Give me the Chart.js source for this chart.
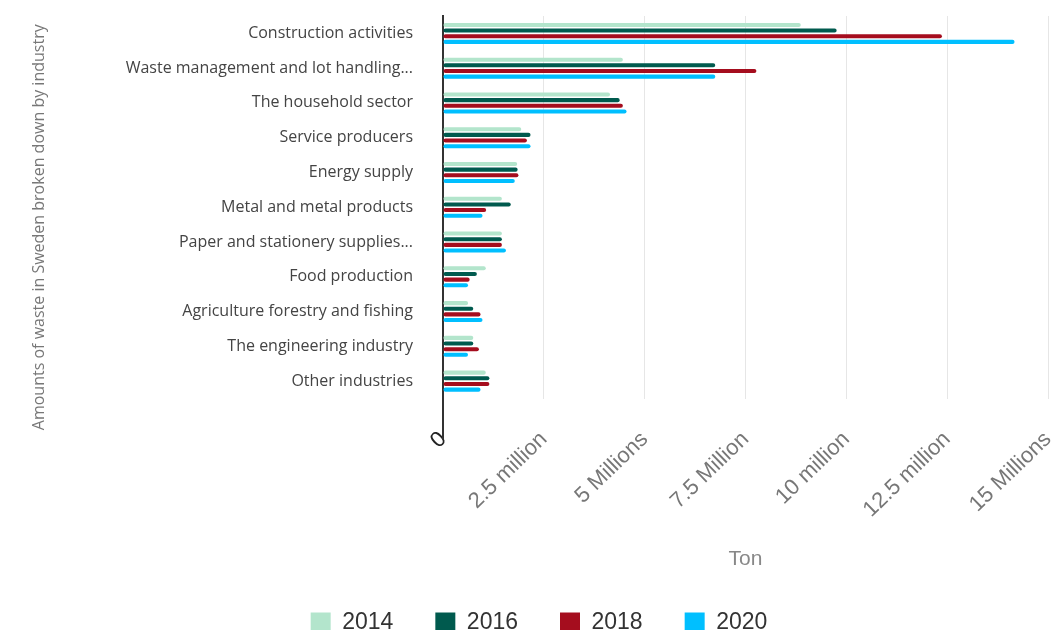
<!DOCTYPE html>
<html>
<head>
<meta charset="utf-8">
<script src="https://cdn.jsdelivr.net/npm/chart.js@4"></script>
<style>
  html, body { margin: 0; padding: 0; background: #fff; }
  #wrap { width: 1062px; height: 630px; }
</style>
</head>
<body>
<div id="wrap"><canvas id="myChart" width="1062" height="630"></canvas></div>
<script>
const categories = [
  "Construction activities",
  "Waste management and lot handling...",
  "The household sector",
  "Service producers",
  "Energy supply",
  "Metal and metal products",
  "Paper and stationery supplies...",
  "Food production",
  "Agriculture forestry and fishing",
  "The engineering industry",
  "Other industries",
];

const years = ["2014", "2016", "2018", "2020"];

// tons
const values2014 = [8870000, 4460000, 4140000, 1940000, 1840000, 1460000, 1460000, 1060000, 620000, 750000, 1060000];
const values2016 = [9760000, 6750000, 4380000, 2170000, 1850000, 1680000, 1460000, 840000, 750000, 750000, 1150000];
const values2018 = [12370000, 7770000, 4460000, 2080000, 1870000, 1070000, 1460000, 660000, 930000, 890000, 1150000];
const values2020 = [14170000, 6750000, 4550000, 2170000, 1780000, 980000, 1560000, 620000, 980000, 620000, 930000];

const tickLabels = ["0", "2.5 million", "5 Millions", "7.5 Million", "10 million", "12.5 million", "15 Millions"];

const colors = ["#b3e5cc", "#005a4e", "#a50d1e", "#00bfff"];

// the y title sits a bit lower than the middle of the plot
const shiftYTitle = {
  id: "shiftYTitle",
  afterLayout: (chart) => {
    chart.scales.y.bottom += 40;
  },
};

const ctx = document.getElementById("myChart").getContext("2d");
const myChart = new Chart(ctx, {
  type: "bar",
  data: {
    labels: categories,
    datasets: [values2014, values2016, values2018, values2020].map((data, i) => ({
      label: years[i],
      data,
      backgroundColor: colors[i],
      borderRadius: 2,
      borderSkipped: false,
      categoryPercentage: 0.65,
      barPercentage: 0.72,
    })),
  },
  plugins: [shiftYTitle],
  options: {
    indexAxis: "y",
    responsive: false,
    animation: false,
    layout: { padding: { left: 30, right: 14, top: 16, bottom: -14 } },
    scales: {
      x: {
        min: 0,
        max: 15000000,
        ticks: {
          stepSize: 2500000,
          minRotation: 44,
          maxRotation: 44,
          padding: 28,
          font: { family: "Liberation Sans", size: 22 },
          color: (c) => (c.tick && c.tick.value === 0 ? "#222" : "#777"),
          callback: (value) => tickLabels[Math.round(value / 2500000)],
        },
        grid: { color: "#e6e6e6", lineWidth: 1, drawTicks: false },
        border: { display: false },
        title: {
          display: true,
          text: "Ton",
          color: "#888",
          font: { family: "Liberation Sans", size: 21 },
          padding: { top: -4, bottom: -3 },
        },
        afterFit: (scale) => {
          scale.paddingLeft = 0;
          scale.paddingRight = 0;
        },
      },
      y: {
        ticks: {
          padding: 30,
          color: "#444",
          font: { family: "Open Sans", size: 16 },
        },
        grid: { display: false, drawTicks: false },
        border: { display: true, color: "#333", width: 2 },
        title: {
          display: true,
          text: "Amounts of waste in Sweden broken down by industry",
          color: "#777",
          font: { family: "Open Sans", size: 16 },
          padding: 0,
        },
        afterFit: (scale) => {
          scale.width = 413;
          scale.paddingTop = 0;
          scale.paddingBottom = 0;
        },
      },
    },
    plugins: {
      legend: {
        position: "bottom",
        labels: {
          boxWidth: 20,
          boxHeight: 20,
          padding: 42,
          color: "#333",
          font: { family: "Liberation Sans", size: 23 },
        },
      },
      tooltip: { enabled: false },
    },
  },
});
</script>
</body>
</html>
